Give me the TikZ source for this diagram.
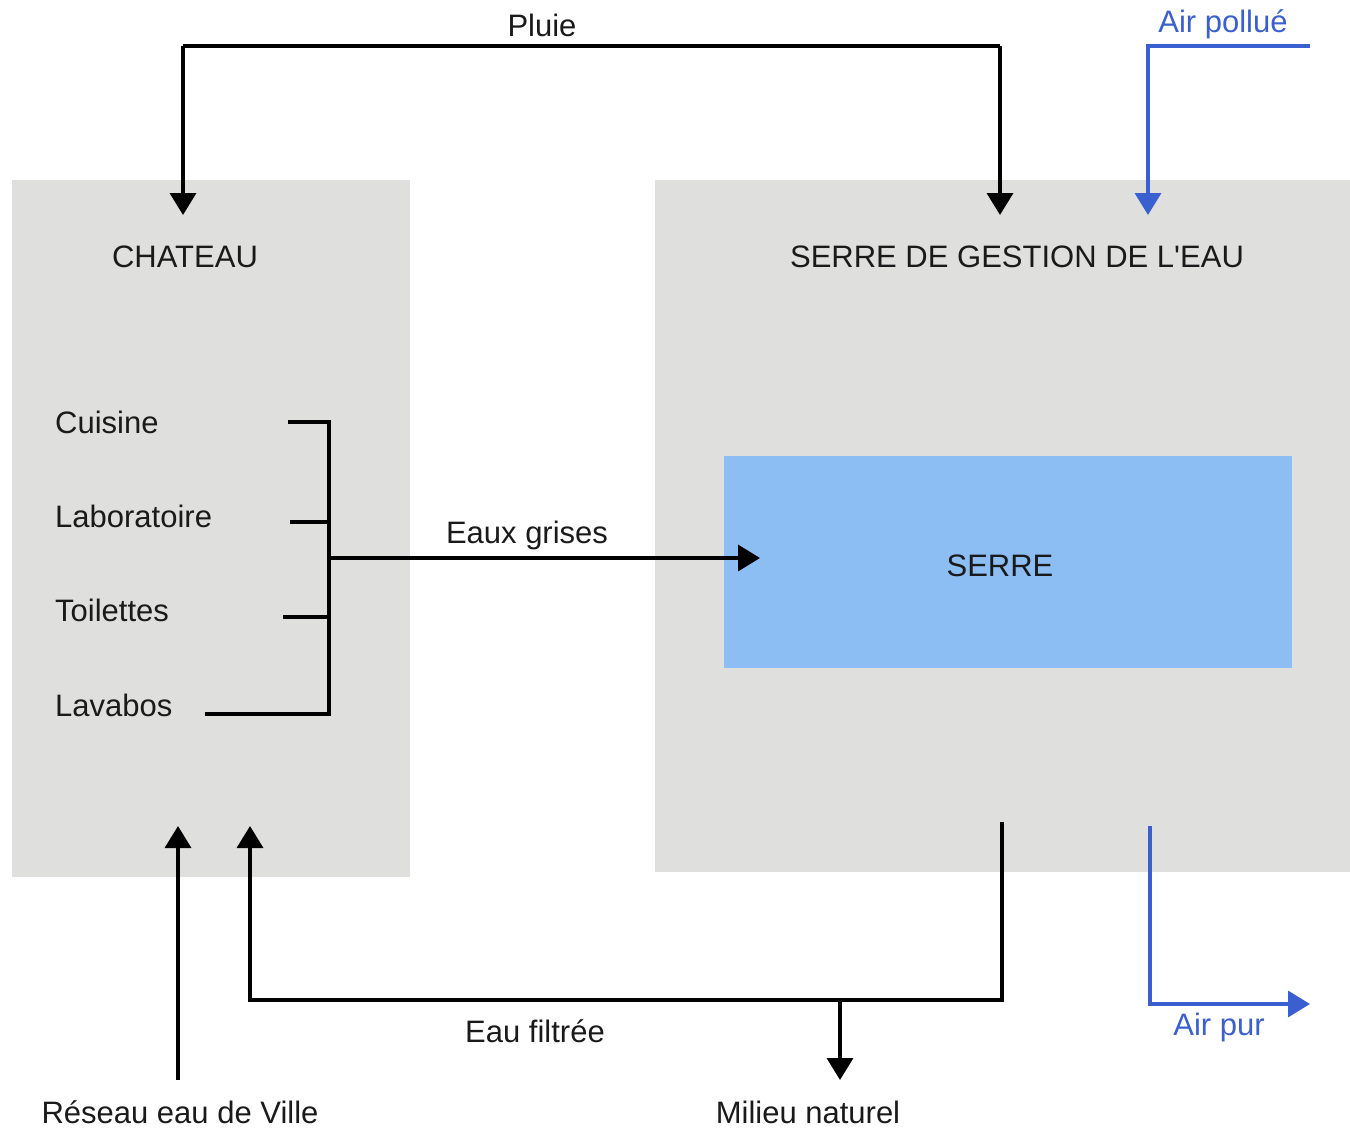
\documentclass[tikz,border=0pt]{standalone}
\usepackage{fontspec}
\setmainfont{Liberation Sans}[Ligatures=TeXOff]
\usetikzlibrary{arrows.meta}
\definecolor{boxgrey}{HTML}{DFE0DE}
\definecolor{serreblue}{HTML}{8CBDF3}
\definecolor{airblue}{HTML}{3A5FD0}
\definecolor{txt}{HTML}{1A1A1A}
\begin{document}
\begin{tikzpicture}[x=1pt,y=-1pt,
  lbl/.style={font=\fontsize{31}{35}\selectfont, text=txt, inner sep=0pt},
  bluelbl/.style={font=\fontsize{31}{35}\selectfont, text=airblue, inner sep=0pt},
  flow/.style={draw=black, line width=3.5pt, -{Triangle[length=22pt,width=26pt]}},
  line/.style={draw=black, line width=3.5pt},
  airflow/.style={draw=airblue, line width=3.5pt, -{Triangle[length=22pt,width=26pt]}},
  area/.style={fill=boxgrey, draw=none}]
\useasboundingbox (0,0) rectangle (1350,1128);
% boxes
\node[area, minimum width=398pt, minimum height=697pt, anchor=north west] (chateau) at (12,180) {};
\node[area, minimum width=695pt, minimum height=692pt, anchor=north west] (gestion) at (655,180) {};
\node[fill=serreblue, minimum width=568pt, minimum height=212pt, anchor=north west] (serre) at (724,456) {};
% titles
\node[lbl] (tchateau) at (185,257) {CHATEAU};
\node[lbl] (tgestion) at (1017,257) {SERRE DE GESTION DE L'EAU};
\node[lbl] (tserre) at (1000,566) {SERRE};
% rooms
\node[lbl, anchor=west] (cuisine) at (55,422) {Cuisine};
\node[lbl, anchor=west] (labo) at (55,516) {Laboratoire};
\node[lbl, anchor=west] (toil) at (55,610) {Toilettes};
\node[lbl, anchor=west] (lavabos) at (55,705) {Lavabos};
% labels
\node[lbl] (pluie) at (542,25) {Pluie};
\node[bluelbl] (airpol) at (1223,24) {Air pollué};
\node[lbl] (eauxg) at (527,535) {Eaux grises};
\node[lbl] (eauf) at (535,1031) {Eau filtrée};
\node[lbl] (milieu) at (808,1112) {Milieu naturel};
\node[lbl] (reseau) at (180,1112) {Réseau eau de Ville};
\node[bluelbl] (airpur) at (1219,1027) {Air pur};
% coordinates
\coordinate (pl1) at (183,215);
\coordinate (pl2) at (1000,215);
\coordinate (pltop) at (183,46);
\coordinate (ap0) at (1310,46);
\coordinate (ap1) at (1148,215);
\coordinate (c1) at (288,422);
\coordinate (c2) at (290,522);
\coordinate (c3) at (283,617);
\coordinate (c4) at (205,714);
\coordinate (btop) at (329,422);
\coordinate (bbot) at (329,714);
\coordinate (gstart) at (329,558);
\coordinate (gend) at (760,558);
\coordinate (f0) at (1002,822);
\coordinate (f1) at (250,826);
\coordinate (fb) at (840,1000);
\coordinate (m1) at (840,1080);
\coordinate (r0) at (178,1080);
\coordinate (r1) at (178,826);
\coordinate (pu0) at (1150,826);
\coordinate (pu1) at (1310,1004);
% Pluie
\draw[flow] (pltop) -- (pl1);
\draw[line] (pltop) -- (pl2 |- pltop) coordinate (pltr);
\draw[flow] (pltr) -- (pl2);
% Air pollue
\draw[airflow] (ap0) -- (ap1 |- ap0) -- (ap1);
% bracket
\draw[line] (c1) -- (btop) -- (bbot) -- (c4);
\draw[line] (c2) -- (c2 -| btop);
\draw[line] (c3) -- (c3 -| btop);
% eaux grises
\draw[flow] (gstart) -- (gend);
% eau filtree
\draw[flow] (f0) -- (f0 |- fb) -- (f1 |- fb) -- (f1);
\draw[flow] (fb) -- (m1);
% reseau
\draw[flow] (r0) -- (r1);
% air pur
\draw[airflow] (pu0) -- (pu0 |- pu1) -- (pu1);
\end{tikzpicture}
\end{document}
